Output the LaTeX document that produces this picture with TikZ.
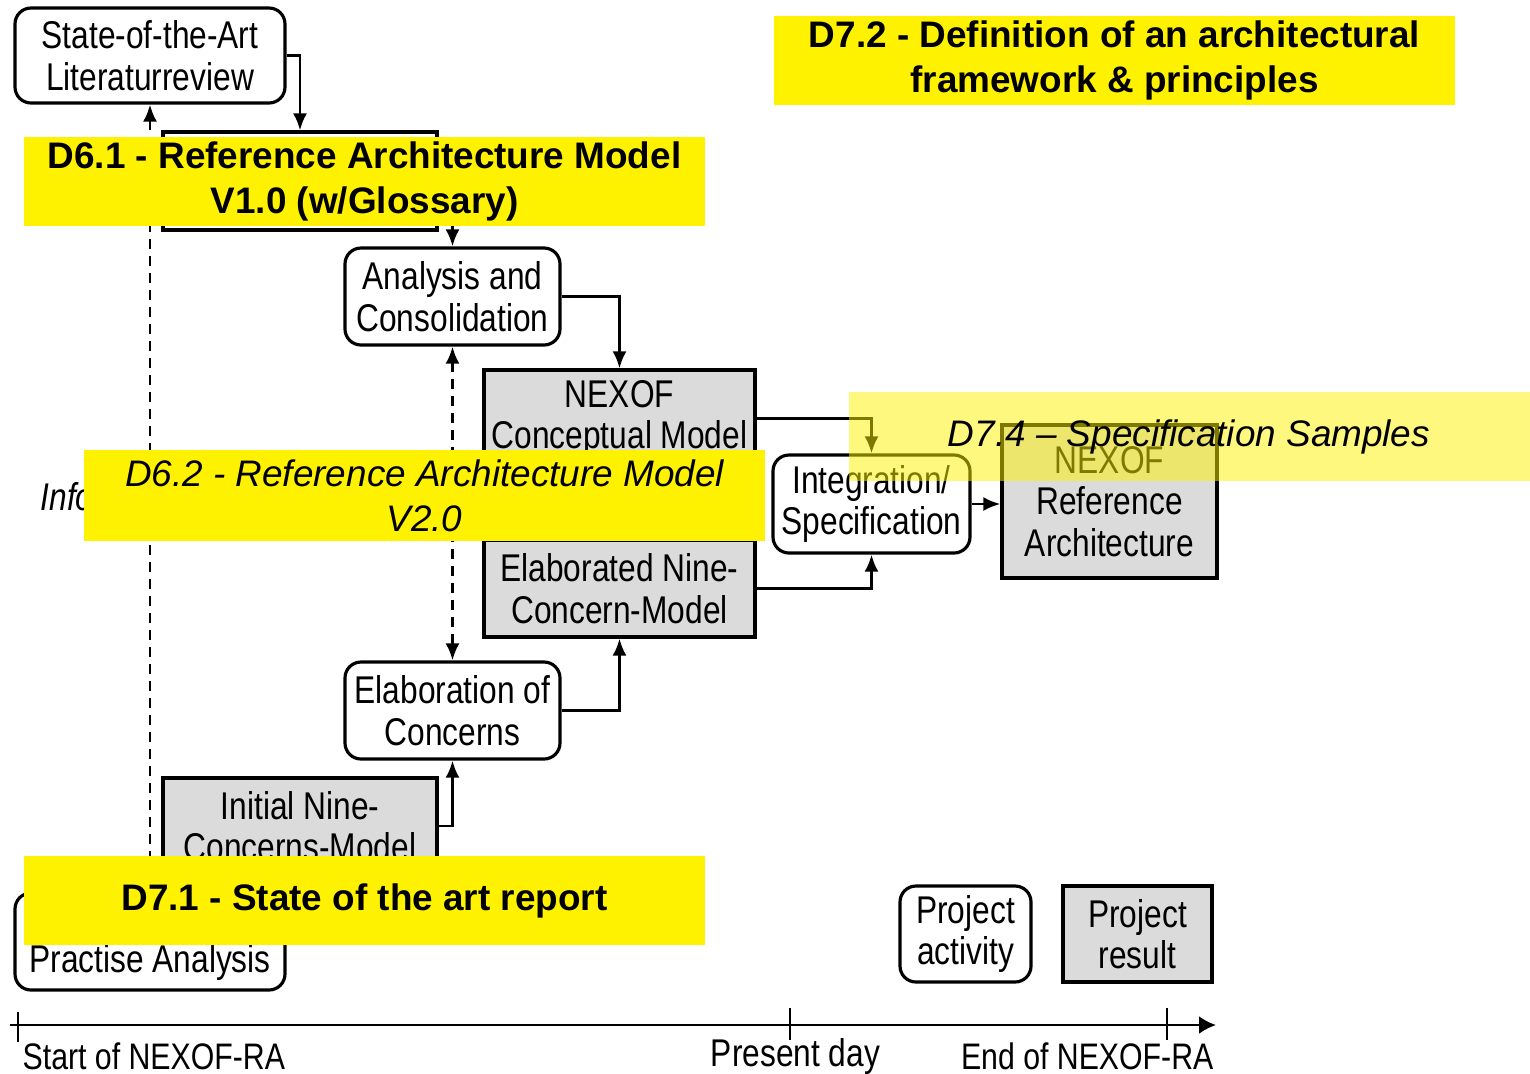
\documentclass[tikz,border=0pt]{standalone}
\usepackage{fontspec}
\setmainfont{Liberation Sans}[FakeStretch=0.82]
\newfontfamily\delivfont{Liberation Sans}
\usepackage{tikz}
\usetikzlibrary{arrows,arrows.meta,positioning}

\begin{document}
\begin{tikzpicture}[auto]
\tikzset{
    activity/.style={rectangle,rounded corners=1.6mm,draw=black,fill=white,line width=0.9pt,inner sep=0pt,align=center,font=\fontsize{11}{11.8}\selectfont},
    result/.style={rectangle,draw=black,fill=black!14,line width=0.9pt,inner sep=0pt,align=center,font=\fontsize{11}{11.8}\selectfont},
    deliv/.style={rectangle,fill=yellow,inner sep=0pt,minimum width=6.81cm,minimum height=0.89cm,align=center,font=\delivfont\fontsize{10.5}{12.8}\selectfont},
    myarrow/.style={-{Latex[length=1.7mm,width=1.4mm]}, line width=0.8pt},
    dasharrow/.style={{Latex[length=1.7mm,width=1.4mm]}-{Latex[length=1.7mm,width=1.4mm]}, line width=0.8pt, dash pattern=on 1mm off 0.7mm},
    mylabel/.style={inner sep=0pt,font=\fontsize{11}{11.8}\selectfont}
}
\useasboundingbox (0,0) rectangle (15.30,-10.73);

% activities and results
\node[activity, minimum width=2.70cm, minimum height=0.95cm] (lit) at (1.50,-0.555) {State-of-the-Art\\Literaturreview};
\node[result, fill=white, minimum width=2.74cm, minimum height=0.98cm] (hidbox) at (3.00,-1.81) {};
\node[activity, minimum width=2.15cm, minimum height=0.97cm] (analysis) at (4.525,-2.965) {Analysis and\\Consolidation};
\node[result, minimum width=2.71cm, minimum height=0.97cm] (concept) at (6.195,-4.185) {NEXOF\\Conceptual Model};
\node[result, minimum width=2.71cm, minimum height=0.97cm] (elab) at (6.195,-5.885) {Elaborated Nine-\\Concern-Model};
\node[activity, minimum width=1.97cm, minimum height=0.98cm] (integ) at (8.715,-5.04) {Integration/\\Specification};
\node[result, minimum width=2.15cm, minimum height=1.53cm] (refarch) at (11.095,-5.015) {NEXOF\\Reference\\Architecture};
\node[activity, minimum width=2.15cm, minimum height=0.97cm] (elabc) at (4.525,-7.105) {Elaboration of\\Concerns};
\node[result, minimum width=2.74cm, minimum height=0.96cm] (initial) at (3.00,-8.26) {Initial Nine-\\Concerns-Model};
\node[activity, minimum width=2.70cm, minimum height=0.97cm] (practise) at (1.50,-9.415) {\strut\\Practise Analysis};
\node[mylabel, anchor=west, font=\itshape\fontsize{11}{11.8}\selectfont] (info) at (0.40,-4.97) {Information};

% legend
\node[activity, minimum width=1.31cm, minimum height=0.96cm] (legact) at (9.655,-9.34) {Project\\activity};
\node[result, minimum width=1.49cm, minimum height=0.96cm] (legres) at (11.375,-9.34) {Project\\result};

% flows
\draw[myarrow] (lit.east) -| (hidbox.north);
\draw[myarrow] (hidbox.east) -| (analysis.north);
\draw[myarrow] (analysis.east) -| (concept.north);
\draw[myarrow] (concept.east) -| (integ.north);
\draw[myarrow] (elab.east) -| (integ.south);
\draw[myarrow] (integ.east) -- (integ.east -| refarch.west);
\draw[myarrow] (elabc.east) -| (elab.south);
\draw[myarrow] (initial.east) -| (elabc.south);
\draw[dasharrow] (analysis.south) -- (elabc.north);
\draw[dasharrow] (lit.south) -- (practise.north);

% time line
\coordinate (tstart) at (0.10,-10.25);
\coordinate (tend) at (12.16,-10.25);
\draw[-{Latex[length=1.7mm,width=1.8mm]}, line width=0.8pt] (tstart) -- (tend);
\draw[line width=0.6pt] (0.18,-10.12) -- (0.18,-10.42);
\draw[line width=0.6pt] (7.90,-10.08) -- (7.90,-10.40);
\draw[line width=0.6pt] (11.67,-10.08) -- (11.67,-10.40);
\node[mylabel, anchor=west, font=\fontsize{10.5}{11.8}\selectfont] (tstartlbl) at (0.22,-10.56) {Start of NEXOF-RA};
\node[mylabel] (tnowlbl) at (7.955,-10.56) {Present day};
\node[mylabel, anchor=east, font=\fontsize{10.5}{11.8}\selectfont] (tendlbl) at (12.14,-10.56) {End of NEXOF-RA};

% deliverables
\node[deliv, font=\delivfont\bfseries\fontsize{10.5}{12.8}\selectfont] (d72) at (11.145,-0.605) {D7.2 - Definition of an architectural\\framework \& principles};
\node[deliv, font=\delivfont\bfseries\fontsize{10.5}{12.8}\selectfont] (d61) at (3.645,-1.81) {D6.1 - Reference Architecture Model\\V1.0 (w/Glossary)};
\node[deliv, font=\delivfont\itshape\fontsize{10.5}{12.8}\selectfont, minimum height=0.91cm] (d62) at (4.245,-4.955) {D6.2 - Reference Architecture Model\\V2.0};
\node[deliv, fill opacity=0.5, text opacity=1, font=\delivfont\itshape\fontsize{10.5}{12.8}\selectfont] (d74) at (11.89,-4.365) {D7.4 – Specification Samples};
\node[deliv, font=\delivfont\bfseries\fontsize{10.5}{12.8}\selectfont] (d71) at (3.645,-9.005) {D7.1 - State of the art report};

\end{tikzpicture}
\end{document}
